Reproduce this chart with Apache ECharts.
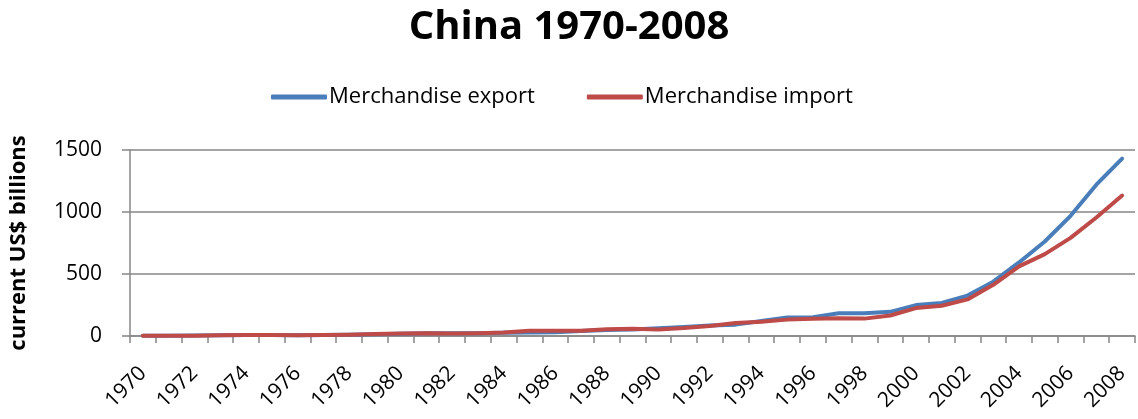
<!DOCTYPE html>
<html>
<head>
<meta charset="utf-8">
<script src="https://cdn.jsdelivr.net/npm/echarts@6/dist/echarts.min.js"></script>
<style>
html,body{margin:0;padding:0;background:#fff;}
#chart{width:1138px;height:419px;}
</style>
</head>
<body>
<div id="chart"></div>
<script>
const years = ['1970','1971','1972','1973','1974','1975','1976','1977','1978','1979',
  '1980','1981','1982','1983','1984','1985','1986','1987','1988','1989',
  '1990','1991','1992','1993','1994','1995','1996','1997','1998','1999',
  '2000','2001','2002','2003','2004','2005','2006','2007','2008'];
const exportValues = [2.3,2.6,3.4,5.8,7.1,7.7,6.9,7.5,9.8,13.7,
  18.1,22.0,22.3,22.2,26.1,27.4,30.9,39.4,47.5,52.5,
  62.1,71.8,84.9,91.7,121.0,148.8,151.0,182.8,183.7,194.9,
  249.2,266.1,325.6,438.2,593.3,762.0,969.1,1220.5,1430.7];
const importValues = [2.3,2.2,2.9,5.2,7.6,7.5,6.6,7.2,10.9,15.7,
  20.0,22.0,19.3,21.4,27.4,42.3,42.9,43.2,55.3,59.1,
  53.3,63.8,80.6,104.0,115.6,132.1,138.8,142.4,140.2,165.7,
  225.1,243.6,295.2,412.8,561.2,660.0,791.5,956.1,1132.6];
const yTicks = [0, 500, 1000, 1500];

const FONT = '"Open Sans", sans-serif';
const chart = echarts.init(document.getElementById('chart'), null, {renderer: 'canvas'});
chart.setOption({
  backgroundColor: '#ffffff',
  animation: false,
  title: {
    text: 'China 1970-2008',
    left: 'center',
    top: 3,
    textStyle: {fontFamily: FONT, fontSize: 40, fontWeight: 'bold', color: '#000'}
  },
  legend: {
    top: 81,
    left: 266,
    itemWidth: 56,
    itemHeight: 5,
    itemGap: 52,
    icon: 'roundRect',
    textStyle: {fontFamily: FONT, fontSize: 22, color: '#000', padding: [0,0,0,-3]},
    data: ['Merchandise export', 'Merchandise import']
  },
  grid: {left: 130, right: 3, top: 150, bottom: 83, containLabel: false},
  xAxis: {
    type: 'category',
    data: years,
    boundaryGap: true,
    axisLine: {show: true, lineStyle: {color: '#868686', width: 1.5}},
    axisTick: {show: true, interval: 0, length: 7, lineStyle: {color: '#868686', width: 1.5}},
    axisLabel: {interval: 1, rotate: 45, fontFamily: FONT, fontSize: 21, color: '#000', margin: 34},
    splitLine: {show: false}
  },
  yAxis: {
    type: 'value',
    min: yTicks[0],
    max: yTicks[yTicks.length - 1],
    interval: 500,
    name: 'current US$ billions',
    nameLocation: 'middle',
    nameRotate: 90,
    nameGap: 100,
    nameTextStyle: {fontFamily: FONT, fontSize: 22, fontWeight: 'bold', color: '#000'},
    axisLine: {show: true, lineStyle: {color: '#868686', width: 1.5}},
    axisTick: {show: true, length: 8, lineStyle: {color: '#868686', width: 1.5}},
    axisLabel: {fontFamily: FONT, fontSize: 21, color: '#000', margin: 28, formatter: function (v) { return String(v); }},
    splitLine: {show: true, lineStyle: {color: '#868686', width: 1.5}}
  },
  series: [
    {
      name: 'Merchandise export',
      type: 'line',
      data: exportValues,
      symbol: 'none',
      smooth: false,
      color: '#4a7ebb',
      lineStyle: {width: 4, color: '#4a7ebb', cap: 'round', join: 'round'}
    },
    {
      name: 'Merchandise import',
      type: 'line',
      data: importValues,
      symbol: 'none',
      smooth: false,
      color: '#be4b48',
      lineStyle: {width: 4, color: '#be4b48', cap: 'round', join: 'round'}
    }
  ]
});
</script>
</body>
</html>
